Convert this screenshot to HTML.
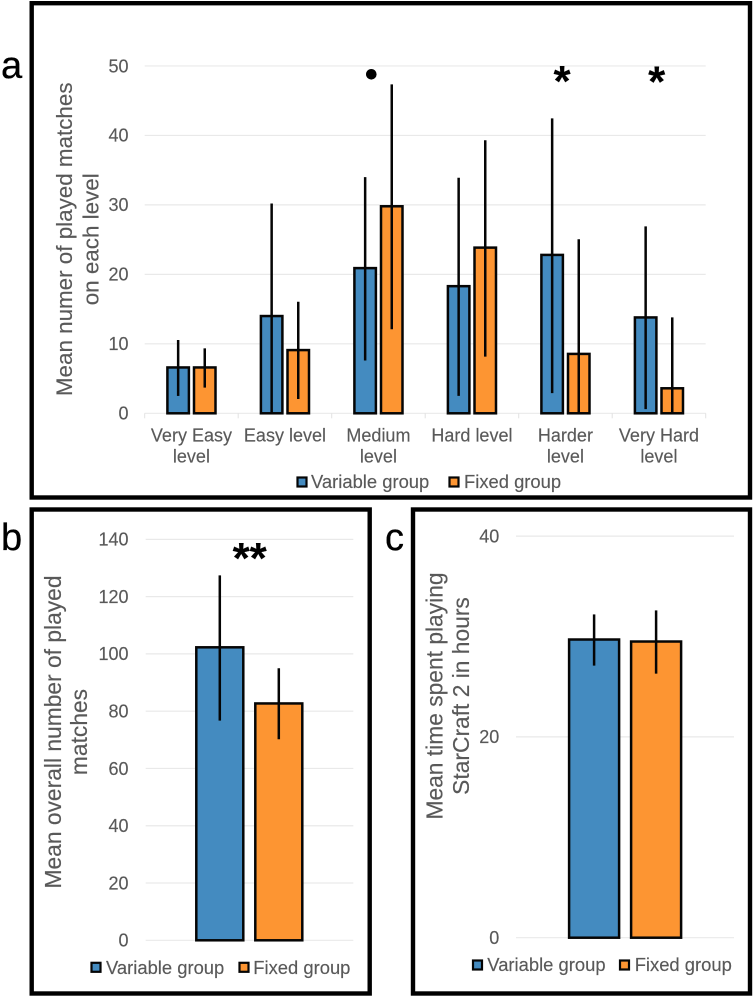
<!DOCTYPE html>
<html lang="en">
<head>
<meta charset="utf-8">
<title>Matches played and time spent by group</title>
<style>
html,body{margin:0;padding:0;background:#fff;}
body{width:753px;height:997px;overflow:hidden;}
svg{display:block;font-family:"Liberation Sans",sans-serif;filter:blur(0.35px);}
text{fill:#595959;stroke:#595959;stroke-width:0.15px;}
.letter{fill:#000;stroke:#000;stroke-width:0.3px;font-size:38px;}
.mark{fill:#000;stroke:#000;stroke-width:0.1px;font-size:44px;font-weight:bold;}
</style>
</head>
<body>
<svg id="fig" width="753" height="997" viewBox="0 0 753 997" xmlns="http://www.w3.org/2000/svg"></svg>
<script>
// Panel a
const aCategories = [["Very Easy","level"],["Easy level"],["Medium","level"],["Hard level"],["Harder","level"],["Very Hard","level"]];
const aVariable = [6.6,14,20.9,18.3,22.8,13.8];
const aFixed = [6.6,9.1,29.8,23.85,8.55,3.6];
const aVariableHigh = [10.55,30.2,34,33.9,42.45,26.9];
const aVariableLow = [2.5,0,7.6,2.5,2.9,0.6];
const aFixedHigh = [9.35,16.05,47.35,39.3,25.05,13.8];
const aFixedLow = [3.7,2.05,12.1,8.15,0,0];
const aTicks = [0,10,20,30,40,50];
// Panel b
const bValues = [102.3,82.7];
const bHigh = [127.4,95];
const bLow = [76.7,70.2];
const bTicks = [0,20,40,60,80,100,120,140];
// Panel c
const cValues = [29.7,29.5];
const cHigh = [32.2,32.6];
const cLow = [27.1,26.3];
const cTicks = [0,20,40];
const seriesNames = ["Variable group","Fixed group"];

const BLUE = "#448bc0", ORANGE = "#fd9532", INK = "#050505";
const svg = document.getElementById("fig");
const NS = "http://www.w3.org/2000/svg";

function add(parent, tag, attrs, txt) {
  const el = document.createElementNS(NS, tag);
  for (const k in attrs) el.setAttribute(k, attrs[k]);
  if (txt !== undefined) el.textContent = txt;
  parent.appendChild(el);
  return el;
}
function scale(y0, yPerUnit) { return v => y0 - v * yPerUnit; }

function frame(x, y, w, h, name) {
  const el = add(svg, "rect", {x: x, y: y, width: w, height: h, fill: "#fff", stroke: "#000", "stroke-width": 4.4});
  
  
}
function letter(x, y, s) {
  const el = add(svg, "text", {x: x, y: y, class: "letter"}, s);
  
  
}
function grid(ticks, sy, left, right, labelX, panel) {
  ticks.forEach(t => {
    const line = add(svg, "line", {x1: left, x2: right, y1: sy(t), y2: sy(t), stroke: "#e9e9e9", "stroke-width": 1.2});
    
    
    const lab = add(svg, "text", {x: labelX, y: sy(t) + 6.3, "text-anchor": "end", "font-size": 18}, String(t));
    
    
  });
}
function bar(cx, w, val, hi, lo, sy, color, name) {
  const rect = add(svg, "rect", {x: cx - w / 2, y: sy(val), width: w, height: sy(0) - sy(val), fill: color, stroke: INK, "stroke-width": 2.5});
  
  
  const err = add(svg, "line", {x1: cx, x2: cx, y1: sy(hi), y2: sy(lo), stroke: INK, "stroke-width": 2.5});
  
  
}
function yTitle(lines, baselines, cy, fontSize, panel) {
  lines.forEach((s, i) => {
    const el = add(svg, "text", {transform: "translate(" + baselines[i] + "," + cy + ") rotate(-90)", "text-anchor": "middle", "font-size": fontSize}, s);
    
    
  });
}
function legend(items, swatchY, textY, panel) {
  items.forEach((it, i) => {
    const sw = add(svg, "rect", {x: it.sx, y: swatchY, width: 9, height: 9, fill: i === 0 ? BLUE : ORANGE, stroke: INK, "stroke-width": 2.2});
    
    
    const tx = add(svg, "text", {x: it.tx, y: textY, "font-size": 18.4}, seriesNames[i]);
    
    
  });
}
function star(x, y, s, name) {
  const el = add(svg, "text", {x: x, y: y, "text-anchor": "middle", class: "mark"}, s);
  
  
}

// ---------- Panel a ----------
frame(31.7, 3.2, 718.3, 494.3, "panel-a-frame");
letter(1, 78, "a");
const ay = scale(413.3, 6.947);
const aLeft = 144.7, aRight = 705.7;
const aStep = (aRight - aLeft) / aCategories.length;
grid(aTicks, ay, aLeft, aRight, 128.5, "a");
for (let i = 0; i <= aCategories.length; i++) {
  const tk = add(svg, "line", {x1: aLeft + i * aStep, x2: aLeft + i * aStep, y1: ay(0), y2: ay(0) + 5, stroke: "#e2e2e2", "stroke-width": 1});
  
  
}
aCategories.forEach((lines, i) => {
  const c = aLeft + (i + 0.5) * aStep;
  bar(c - 13.3, 21.5, aVariable[i], aVariableHigh[i], aVariableLow[i], ay, BLUE, "a-bar-variable-" + (i + 1));
  bar(c + 13.3, 21.5, aFixed[i], aFixedHigh[i], aFixedLow[i], ay, ORANGE, "a-bar-fixed-" + (i + 1));
  lines.forEach((s, j) => {
    const t = add(svg, "text", {x: c, y: 441.7 + j * 20.8, "text-anchor": "middle", "font-size": 18}, s);
    
    
  });
});
yTitle(["Mean numer of played matches", "on each level"], [72, 98.5], 239.3, 22.4, "a");
legend([{sx: 297.5, tx: 311}, {sx: 449.5, tx: 464}], 477.5, 488, "a");
const dot = add(svg, "circle", {cx: 371.3, cy: 74.3, r: 5.3, fill: "#000"});


star(562, 96, "*", "a-significance-star-harder");
star(656.7, 96.5, "*", "a-significance-star-very-hard");

// ---------- Panel b ----------
frame(31.7, 509.5, 338, 484, "panel-b-frame");
letter(1, 550, "b");
const by = scale(940.3, 2.864);
grid(bTicks, by, 145.7, 353.3, 128.5, "b");
bar(219.8, 47, bValues[0], bHigh[0], bLow[0], by, BLUE, "b-bar-variable");
bar(278.8, 47, bValues[1], bHigh[1], bLow[1], by, ORANGE, "b-bar-fixed");
yTitle(["Mean overall number of played", "matches"], [61, 87], 732, 22.8, "b");
legend([{sx: 91.5, tx: 106}, {sx: 239.5, tx: 253.3}], 962.8, 974, "b");
star(249.7, 573, "**", "b-significance-stars");

// ---------- Panel c ----------
frame(413, 509.5, 337, 484, "panel-c-frame");
letter(385, 550, "c");
const cy = scale(937.7, 10.04);
grid(cTicks, cy, 516, 734, 499.3, "c");
bar(594.1, 50, cValues[0], cHigh[0], cLow[0], cy, BLUE, "c-bar-variable");
bar(656.1, 50, cValues[1], cHigh[1], cLow[1], cy, ORANGE, "c-bar-fixed");
yTitle(["Mean time spent playing", "StarCraft 2 in hours"], [442.7, 469], 696, 22.8, "c");
legend([{sx: 473, tx: 487.3}, {sx: 620, tx: 634.7}], 960.5, 971, "c");
</script>
</body>
</html>
